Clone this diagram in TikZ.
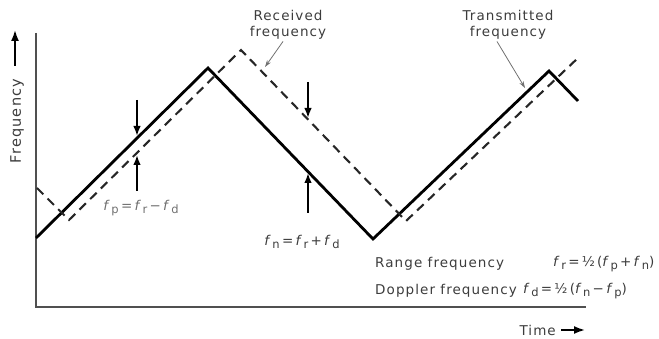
\documentclass[tikz,border=0pt]{standalone}
\usepackage{fontspec}
\setmainfont{DejaVu Sans}[LetterSpace=8]
\usetikzlibrary{arrows.meta}
\newcommand{\fv}[1]{\textit{f}\hspace{0.6pt}\raisebox{-0.45ex}{\fontsize{11.5}{11.5}\selectfont #1}}
\definecolor{txt}{HTML}{3C3C3C}
\definecolor{txtl}{HTML}{707070}
\definecolor{axis}{HTML}{505050}
\begin{document}
\begin{tikzpicture}[x=1pt,y=-1pt,
  lbl/.style={font=\fontsize{13.5}{15.5}\selectfont,text=txt,inner sep=0pt,align=center},
  tx/.style={line width=2.8pt,line join=miter,black},
  rx/.style={line width=2.1pt,black!85,dash pattern=on 9pt off 6pt},
  marker/.style={line width=1.6pt,-{Latex[length=10pt,width=7.5pt]}},
  pointer/.style={line width=0.8pt,draw=txtl,-{Stealth[length=7pt,width=4.5pt]}},
  axisline/.style={line width=1.4pt,draw=axis},
  bigarrow/.style={line width=1.8pt,-{Latex[length=11pt,width=8pt]}}]
\useasboundingbox (0,0) rectangle (659,339);
% axes
\coordinate (O) at (36,307);
\coordinate (Ytop) at (36,33);
\coordinate (Xend) at (586,307);
\draw[axisline] (Ytop) -- (O) -- (Xend);
% transmitted (solid)
\coordinate (T0) at (36,238);
\coordinate (T1) at (208,68);
\coordinate (T2) at (373,239);
\coordinate (T3) at (549,71);
\coordinate (T4) at (578,101);
\draw[tx] (T0) -- (T1) -- (T2) -- (T3) -- (T4);
% received (dashed)
\coordinate (R0) at (37,188);
\coordinate (R1) at (69,220);
\coordinate (R2) at (241,50);
\coordinate (R3) at (406,221);
\coordinate (R4) at (579,57);
\draw[rx] (R0) -- (R1) -- (R2) -- (R3) -- (R4);
% marker arrows left
\coordinate (A1s) at (137,100);
\coordinate (A1e) at (137,136);
\coordinate (A2s) at (137,191);
\coordinate (A2e) at (137,155);
\draw[marker] (A1s) -- (A1e);
\draw[marker] (A2s) -- (A2e);
% marker arrows middle
\coordinate (B1s) at (308,82);
\coordinate (B1e) at (308,118);
\coordinate (B2s) at (308,213);
\coordinate (B2e) at (308,173);
\draw[marker] (B1s) -- (B1e);
\draw[marker] (B2s) -- (B2e);
% labels
\node[lbl] (rec) at (288,25) {Received\\frequency};
\node[lbl] (trn) at (508,25) {Transmitted\\frequency};
\coordinate (recp) at (265,67);
\coordinate (trnp) at (525,88);
\draw[pointer] (rec.south) ++(-5,2) coordinate (recs) -- (recp);
\draw[pointer] (trn.south) ++(-11,2) coordinate (trns) -- (trnp);
\node[lbl,text=txtl] (fp) at (141,208) {\fv{p}\,=\,\fv{r}\,\textminus\,\fv{d}};
\node[lbl] (fn) at (302,242) {\fv{n}\,=\,\fv{r}\,+\,\fv{d}};
\node[lbl,anchor=west] (rng) at (375,264) {Range frequency};
\node[lbl,anchor=west] (rngf) at (553,264) {\fv{r}\,=\,½\,(\fv{p}\,+\,\fv{n})};
\node[lbl,anchor=west] (dop) at (375,291) {Doppler frequency};
\node[lbl,anchor=west] (dopf) at (523,291) {\fv{d}\,=\,½\,(\fv{n}\,\textminus\,\fv{p})};
% axis titles
\node[lbl,rotate=90,font=\fontsize{14.5}{16}\selectfont] (freq) at (17,121) {Frequency};
\coordinate (FAs) at (15,66);
\coordinate (FAe) at (15,30);
\draw[bigarrow] (FAs) -- (FAe);
\node[lbl,anchor=east] (time) at (556,330) {Time};
\coordinate (TAs) at (561,330);
\coordinate (TAe) at (585,330);
\draw[bigarrow] (TAs) -- (TAe);
\end{tikzpicture}
\end{document}
